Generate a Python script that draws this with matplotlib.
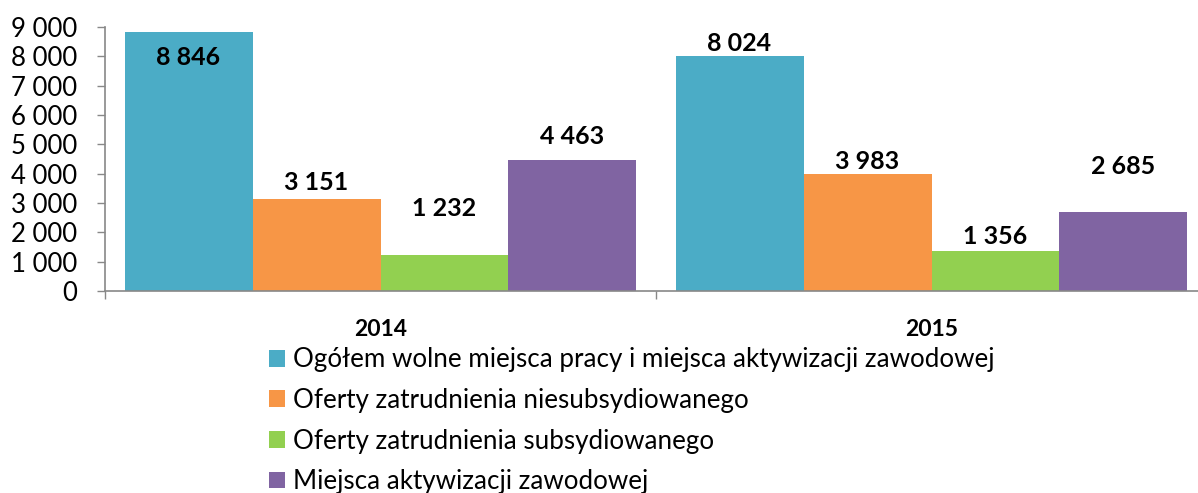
import matplotlib
matplotlib.use("Agg")
import matplotlib.pyplot as plt
import numpy as np
from matplotlib.patches import Patch

# data
years = ["2014", "2015"]
series_names = [
    "Ogółem wolne miejsca pracy i miejsca aktywizacji zawodowej",
    "Oferty zatrudnienia niesubsydiowanego",
    "Oferty zatrudnienia subsydiowanego",
    "Miejsca aktywizacji zawodowej",
]
ogolem = [8846, 8024]
niesubs = [3151, 3983]
subs = [1232, 1356]
aktyw = [4463, 2685]
colors = ["#4BACC6", "#F79646", "#92D050", "#8064A2"]

# where the data labels sit (moved by hand in the original)
label_y = [[7950, 8421], [3682, 4398], [2796, 1841], [5250, 4228]]

plt.rcParams["font.family"] = ["Lato", "DejaVu Sans"]

fig = plt.figure(figsize=(11.98, 4.93), dpi=100)
ax = fig.add_axes([105 / 1198, 1 - 291 / 493, 1102 / 1198, 264 / 493])

x = np.arange(len(years))
w = 0.2323
all_series = [ogolem, niesubs, subs, aktyw]
for i, vals in enumerate(all_series):
    pos = x + (i - 1.5) * w
    ax.bar(pos, vals, width=w, color=colors[i], edgecolor="none", label=series_names[i])
    for j, v in enumerate(vals):
        ax.text(pos[j], label_y[i][j], f"{v:,}".replace(",", " "),
                ha="center", va="center", fontsize=18, fontweight="bold")

ax.set_xlim(-0.5, 1.5)
ax.set_ylim(0, 9000)
yt = np.arange(0, 9001, 1000)
ax.set_yticks(yt)
ax.set_yticklabels([f"{v:,}".replace(",", " ") for v in yt], fontsize=18.5)
ax.tick_params(axis="y", length=6, width=1, color="#888888", pad=14)

ax.set_xticks(x)
ax.set_xticklabels(years, fontsize=16.5, fontweight="bold")
ax.set_xticks([-0.5, 0.5, 1.5], minor=True)
ax.tick_params(axis="x", which="major", length=0, pad=20)
ax.tick_params(axis="x", which="minor", length=6, width=1, color="#888888")

for s in ["top", "right"]:
    ax.spines[s].set_visible(False)
for s in ["left", "bottom"]:
    ax.spines[s].set_color("#888888")
    ax.spines[s].set_linewidth(1.2)

handles = [Patch(facecolor=c, edgecolor="none") for c in colors]
fig.legend(handles, series_names, loc="upper left",
           bbox_to_anchor=(259 / 1198, 1 - 337 / 493),
           frameon=False, fontsize=18.7, handlelength=0.62, handleheight=0.62,
           handletextpad=0.3, labelspacing=0.6, borderaxespad=0)

fig.savefig("out.png", dpi=100)
